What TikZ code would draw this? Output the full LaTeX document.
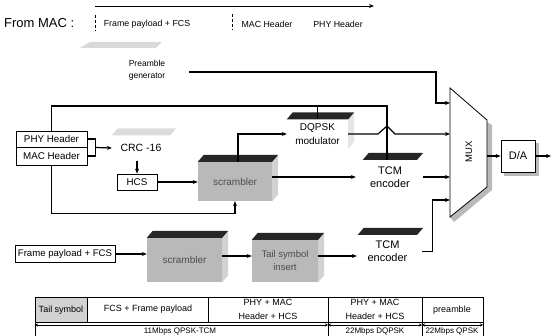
\documentclass[tikz,border=0pt]{standalone}
\usepackage{fontspec}
\setmainfont{Liberation Sans}
\usetikzlibrary{arrows.meta,positioning,calc}

\newcommand{\topface}[2]{%
  \fill[#2] (#1.north west) -- ++(6,-7) -- ($(#1.north east)+(6,-7)$)
    -- (#1.north east) -- cycle;}
\newcommand{\sideface}[2]{%
  \fill[#2] (#1.north east) -- ++(6,-7) -- ($(#1.south east)+(6,-7)$)
    -- (#1.south east) -- cycle;}

\begin{document}
\begin{tikzpicture}[x=1pt,y=-1pt,
  wire/.style={line width=1.2pt},
  sig/.style={-{Stealth[length=5pt,width=4pt]},line width=1.2pt},
  bar/.style={{Stealth[length=3pt,width=3pt]}-{Stealth[length=3pt,width=3pt]},line width=0.6pt},
  hdrbox/.style={draw,line width=0.8pt,minimum width=71pt,inner sep=0pt,font=\fontsize{9.8}{11}\selectfont},
  lbl/.style={align=center,inner sep=0pt,font=\fontsize{10}{14}\selectfont},
  gblk/.style={lbl,fill=gray!55,text=black!70},
  tlbl/.style={inner sep=0pt,font=\fontsize{8.8}{10}\selectfont},
  tcell/.style={align=center,inner sep=0pt,font=\fontsize{9}{14}\selectfont},
  rate/.style={inner sep=0pt,anchor=base,font=\fontsize{8}{9}\selectfont},
]
\useasboundingbox (0,0) rectangle (555,336);
\clip (0,0) rectangle (555,336);

% From MAC line
\node[anchor=west,inner sep=0pt,font=\fontsize{13}{15}\selectfont] (frommac) at (4,23) {From MAC :};
\coordinate (topL) at (95,6);
\coordinate (topR) at (374,6);
\draw[sig,line width=0.8pt] (topL) -- (topR);
\draw[densely dashed,line width=0.6pt] (95,15) -- (95,31);
\draw[densely dashed,line width=0.6pt] (232,14) -- (232,30);
\node[tlbl] (tpay) at (147,24) {Frame payload + FCS};
\node[tlbl] (tmac) at (267,24) {MAC Header};
\node[tlbl] (tphy) at (338,24) {PHY Header};
\fill[gray!30] (80,48) -- (90,42) -- (162,42) -- (156,48) -- cycle;

% MUX and D/A
\coordinate (muxA) at (450,103);
\coordinate (muxB) at (450,134);
\coordinate (muxC) at (450,177);
\coordinate (muxD) at (450,200);
\coordinate (muxE) at (487,156);
\fill[gray!55] (487,122) -- (492,125) -- (492,190) -- (454,222) -- (450,217) -- (487,187) -- cycle;
\draw[line width=0.8pt,fill=white] (450,88) -- (487,120) -- (487,187) -- (450,217) -- cycle;
\node[rotate=90,font=\fontsize{9.5}{10}\selectfont] (mux) at (469,152) {MUX};
\fill[gray!55] (504,143) rectangle (539,176);
\node[draw,fill=white,line width=0.8pt,minimum width=34pt,minimum height=32pt,inner sep=0pt,
  font=\fontsize{11}{12}\selectfont] (da) at (518,156) {D/A};
\coordinate (dout) at (551,156);

% Preamble generator
\node[lbl,font=\fontsize{8.5}{12}\selectfont] (pg) at (147,70) {Preamble\\generator};

% header path
\node[hdrbox,minimum height=16pt] (phy) at (51.5,139) {PHY Header};
\node[hdrbox,minimum height=18pt] (mac) at (51.5,156) {MAC Header};
\node[lbl,font=\fontsize{10.5}{12}\selectfont,minimum width=58pt,minimum height=25pt] (crc) at (141,148) {CRC -16};
\topface{crc}{gray!28}
\node[draw,line width=0.8pt,minimum width=40pt,minimum height=16pt,inner sep=0pt,
  font=\fontsize{9.8}{11}\selectfont] (hcs) at (137,182) {HCS};
\node[gblk,minimum width=74pt,minimum height=39pt] (scr1) at (235,181.5) {scrambler};
\sideface{scr1}{gray!35}
\topface{scr1}{black!85}
\node[lbl,minimum width=61pt,minimum height=29pt] (dqpsk) at (317.5,134) {DQPSK\\modulator};
\sideface{dqpsk}{gray!20}
\topface{dqpsk}{black!85}
\node[lbl,font=\fontsize{11}{13}\selectfont,minimum width=54pt,minimum height=34pt] (tcm1) at (390,177) {TCM\\encoder};
\topface{tcm1}{black!85}

% payload path
\node[draw,line width=0.8pt,minimum width=100pt,minimum height=17pt,inner sep=0pt,
  font=\fontsize{9.6}{11}\selectfont] (fpay) at (65,254) {Frame payload + FCS};
\node[gblk,minimum width=75pt,minimum height=44pt] (scr2) at (184.5,260) {scrambler};
\sideface{scr2}{gray!35}
\topface{scr2}{black!85}
\node[gblk,font=\fontsize{9.5}{13}\selectfont,minimum width=66pt,minimum height=42pt] (tail) at (285,261) {Tail symbol\\insert};
\sideface{tail}{gray!35}
\topface{tail}{black!85}
\node[lbl,font=\fontsize{11}{13}\selectfont,minimum width=59pt,minimum height=33pt] (tcm2) at (387.5,251.5) {TCM\\encoder};
\topface{tcm2}{black!85}

% preamble to MUX
\draw[sig] ([xshift=24pt,yshift=-2pt]pg.east) -| ($(muxA)+(-14,0)$) -- (muxA);

% header bus
\coordinate (bus) at (387,106);
\draw[wire] (phy.north) |- (bus) -- (bus |- tcm1.north);
\draw[wire] (dqpsk.north |- bus) -- (dqpsk.north);
\draw[wire] (phy.east) -- ++(8,0) |- (mac.east);
\draw[sig] ($(phy.east)!0.5!(mac.east)+(8,0)$) -- (crc.west);
\draw[sig] (hcs.north |- crc.south) -- (hcs.north);
\draw[sig] (hcs.east) -- (hcs.east -| scr1.west);
\draw[sig] (mac.south) |- ($(scr1.south)+(0,12)$) -- (scr1.south);
\draw[sig] ([xshift=3pt]scr1.north) |- (dqpsk.west);
\draw[sig,shorten >=7pt] (scr1.east |- tcm1.west) -- (tcm1.west);

% DQPSK out, hop over bus
\draw[sig] (dqpsk.east) -- ($(bus |- dqpsk.east)+(-9,0)$) -- ($(bus |- dqpsk.east)+(0,-8)$)
  -- ($(bus |- dqpsk.east)+(8,0)$) -- (muxB);
\draw[sig,shorten <=6pt] (tcm1.east) -- (muxC);

% payload chain
\draw[sig] (fpay.east) -- (fpay.east -| scr2.west);
\draw[sig] ([yshift=4pt]scr2.east) -- ([yshift=4pt]scr2.east -| tail.west);
\draw[sig,shorten >=1pt] ([yshift=5pt]tail.east) -- ([yshift=5pt]tail.east -| tcm2.west);
\draw[sig] ([xshift=5pt]tcm2.east) -- ++(10,0) |- (muxD);

% MUX to D/A
\draw[sig] (muxE) -- (da.west);
\draw[sig] (da.east) -- (dout);

% frame table
\fill[gray!35] (35,297) rectangle (87,322);
\draw[line width=0.7pt] (35,297) rectangle (483,322);
\foreach \x in {87,208,328,422}
  \draw[line width=0.7pt] (\x,297) -- (\x,322);
\foreach \x in {35,328,422,483}
  \draw[line width=0.7pt] (\x,322) -- (\x,340);
\draw[bar] (35,325) -- (328,325);
\draw[bar] (328,325) -- (422,325);
\draw[bar] (422,325) -- (483,325);
\node[tcell] (ctail) at (61,310) {Tail symbol};
\node[tcell] (cfcs) at (148,309) {FCS + Frame payload};
\node[tcell] (chdr1) at (268,309) {PHY + MAC\\Header + HCS};
\node[tcell] (chdr2) at (375,309) {PHY + MAC\\Header + HCS};
\node[tcell] (cpre) at (452,310) {preamble};
\node[rate] (r11) at (180,333.8) {11Mbps QPSK-TCM};
\node[rate] (r22d) at (375,333.8) {22Mbps DQPSK};
\node[rate] (r22q) at (452,333.8) {22Mbps QPSK};
\end{tikzpicture}
\end{document}
